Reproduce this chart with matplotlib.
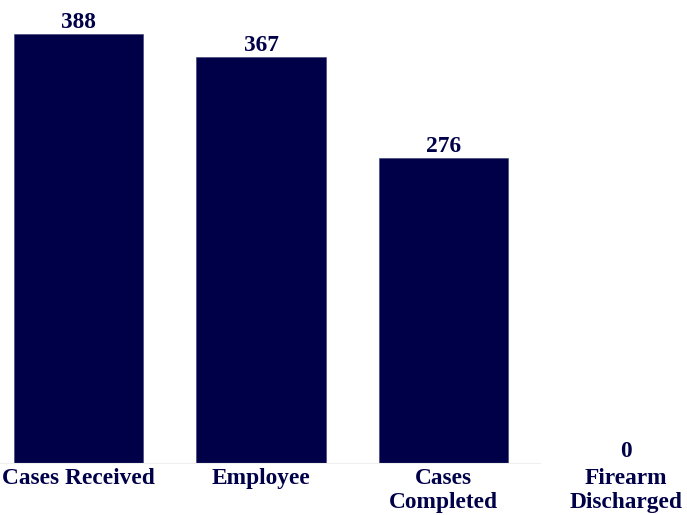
import matplotlib
matplotlib.use("Agg")
import matplotlib.pyplot as plt

categories = ["Cases Received", "Employee", "Cases\nCompleted", "Firearm\nDischarged"]
counts = [388, 367, 276, 0]

navy = "#000048"
plt.rcParams["font.family"] = ["Liberation Serif", "DejaVu Serif"]
plt.rcParams["font.weight"] = "bold"

fig = plt.figure(figsize=(6.87, 5.15), dpi=100)
ax = fig.add_axes([0, 0.101, 1, 0.899])

x = range(len(categories))
bars = ax.bar(x, counts, width=0.71, color=navy, edgecolor="#3a3a70", linewidth=0.4)

for rect, n in zip(bars, counts):
    ax.annotate(str(n), (rect.get_x() + rect.get_width() / 2, n),
                xytext=(0, 1), textcoords="offset points",
                ha="center", va="bottom", fontsize=16.8,
                fontweight="bold", color=navy)

ax.set_xlim(-0.43, 3.334)
ax.set_ylim(0, 419)
ax.set_xticks(list(x))
ax.set_xticklabels(categories, fontsize=16.8, fontweight="bold",
                   color=navy, linespacing=1.2)
ax.tick_params(axis="x", length=0, pad=3.5)
ax.set_yticks([])

for side in ("top", "right", "left"):
    ax.spines[side].set_visible(False)
ax.spines["bottom"].set_color("#efefef")
ax.spines["bottom"].set_linewidth(0.8)
ax.spines["bottom"].set_bounds(-0.43, 2.53)

fig.savefig("out.png", dpi=100)
